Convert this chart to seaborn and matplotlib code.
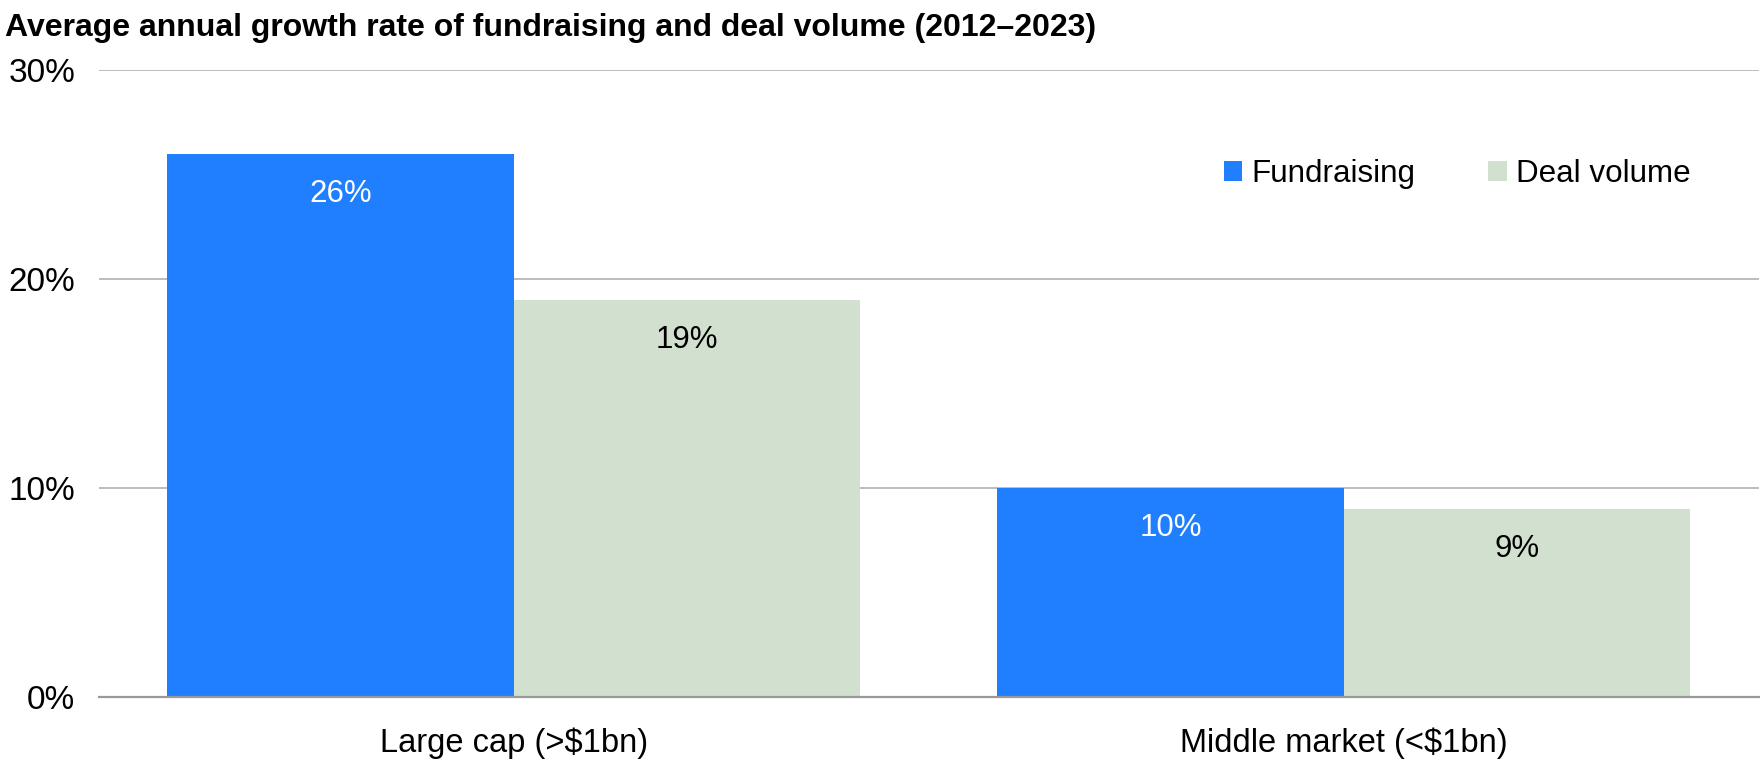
import pandas as pd
import seaborn as sns
import matplotlib.pyplot as plt

# Dados
categorias = ["Large cap (>$1bn)", "Middle market (<$1bn)"]
fundraising = [26, 10]
deal_volume = [19, 9]
series = ["Fundraising", "Deal volume"]
cores = ["#1F7FFF", "#D2E1CF"]
yticks = [0, 10, 20, 30]

df = pd.DataFrame({
    "Categoria": categorias * 2,
    "Valor": fundraising + deal_volume,
    "Serie": [series[0]] * 2 + [series[1]] * 2,
})

sns.set_theme(style="white")
plt.rcParams["font.family"] = ["Liberation Sans", "DejaVu Sans"]
plt.rcParams["text.color"] = "black"

fig = plt.figure(figsize=(17.6, 7.65), dpi=100)
ax = fig.add_axes([0.05625, 0.0889, 0.943, 0.8196])

sns.barplot(
    data=df, x="Categoria", y="Valor", hue="Serie",
    palette=cores, width=0.835, gap=0, saturation=1,
    linewidth=0, ax=ax, zorder=3,
)

ax.set_xlim(-0.5, 1.5)
ax.set_ylim(0, 30)
ax.set_yticks(yticks)
ax.set_yticklabels([f"{v}%" for v in yticks])
ax.yaxis.grid(True, color="#b0b0b0", linewidth=1.2, zorder=0)
ax.set_xlabel("")
ax.set_ylabel("")
ax.tick_params(axis="y", length=0, pad=17, labelsize=24, colors="black")
ax.tick_params(axis="x", length=0, pad=22, labelsize=23.5, colors="black")

for s in ["top", "right", "left"]:
    ax.spines[s].set_visible(False)
ax.spines["bottom"].set_color("#9a9a9a")
ax.spines["bottom"].set_linewidth(1.6)
ax.spines["bottom"].set_zorder(4)

# Rótulos dentro das barras
for cont, cor_txt in zip(ax.containers, ["white", "black"]):
    for barra in cont:
        h = barra.get_height()
        ax.annotate(
            f"{h:.0f}%",
            (barra.get_x() + barra.get_width() / 2, h),
            xytext=(0, -29), textcoords="offset points",
            ha="center", va="center", fontsize=22.5, color=cor_txt, zorder=5,
        )

leg = ax.legend(
    loc="center left", bbox_to_anchor=(0.67, 0.834), ncol=2, frameon=False,
    fontsize=22.6, handlelength=0.6, handleheight=0.6, handletextpad=0.3,
    columnspacing=2.3, borderaxespad=0,
)
for t in leg.get_texts():
    t.set_color("black")

fig.text(0.003, 0.963, "Average annual growth rate of fundraising and deal volume (2012–2023)",
         fontsize=23, fontweight="bold", ha="left", va="center", color="black")

fig.savefig("out.png", dpi=100)
